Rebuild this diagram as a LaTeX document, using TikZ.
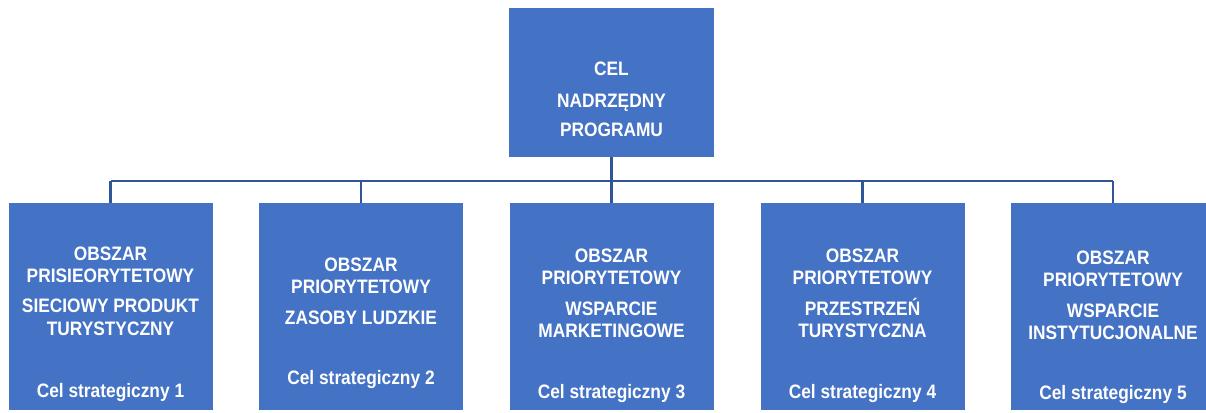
\documentclass[tikz,border=0pt]{standalone}
\usepackage{fontspec}
\setmainfont{Liberation Sans}[FakeStretch=0.89]
\definecolor{boxblue}{HTML}{4472C4}
\definecolor{lineblue}{HTML}{2F5597}
\begin{document}
\begin{tikzpicture}[x=0.75pt,y=-0.75pt,
  boxstyle/.style={fill=boxblue,draw=none,inner sep=0pt,minimum width=153pt,minimum height=155.25pt},
  topstyle/.style={fill=boxblue,draw=none,inner sep=0pt,minimum width=153.75pt,minimum height=111.75pt},
  txt/.style={anchor=base,text=white,inner sep=0pt,font=\fontsize{14.6}{16}\selectfont\bfseries},
  conn/.style={draw=lineblue,line width=1.6pt}]
\useasboundingbox (0,0) rectangle (1206,412);
\clip (0,0) rectangle (1206,412);
% boxes
\node[topstyle] (top) at (611.5,82.5) {};
\node[boxstyle] (b1) at (110.5,306.5) {};
\node[boxstyle] (b2) at (361,306.5) {};
\node[boxstyle] (b3) at (611.5,306.5) {};
\node[boxstyle] (b4) at (862.5,306.5) {};
\node[boxstyle] (b5) at (1113,306.5) {};
% connectors
\coordinate (bus) at (611.5,181);
\draw[conn] (top.south) -- (b3.north);
\draw[conn] (b1.north |- bus) -- (b5.north |- bus);
\draw[conn] (b1.north |- bus) -- (b1.north);
\draw[conn] (b2.north |- bus) -- (b2.north);
\draw[conn] (b4.north |- bus) -- (b4.north);
\draw[conn] (b5.north |- bus) -- (b5.north);
% top text
\node[txt] (t1) at (611.5,75) {CEL};
\node[txt] (t2) at (611.5,107) {NADRZĘDNY};
\node[txt] (t3) at (611.5,136) {PROGRAMU};
% box 1
\node[txt] (a1) at (110.5,260) {OBSZAR};
\node[txt] (a2) at (110.5,282) {PRISIEORYTETOWY};
\node[txt] (a3) at (110.5,312) {SIECIOWY PRODUKT};
\node[txt] (a4) at (110.5,335) {TURYSTYCZNY};
\node[txt] (a5) at (110.5,397) {Cel strategiczny 1};
% box 2
\node[txt] (c1) at (361,271) {OBSZAR};
\node[txt] (c2) at (361,293) {PRIORYTETOWY};
\node[txt] (c3) at (361,324) {ZASOBY LUDZKIE};
\node[txt] (c4) at (361,384) {Cel strategiczny 2};
% box 3
\node[txt] (d1) at (611.5,262) {OBSZAR};
\node[txt] (d2) at (611.5,284) {PRIORYTETOWY};
\node[txt] (d3) at (611.5,315) {WSPARCIE};
\node[txt] (d4) at (611.5,337) {MARKETINGOWE};
\node[txt] (d5) at (611.5,398) {Cel strategiczny 3};
% box 4
\node[txt] (e1) at (862.5,262) {OBSZAR};
\node[txt] (e2) at (862.5,284) {PRIORYTETOWY};
\node[txt] (e3) at (862.5,315) {PRZESTRZEŃ};
\node[txt] (e4) at (862.5,337) {TURYSTYCZNA};
\node[txt] (e5) at (862.5,398) {Cel strategiczny 4};
% box 5
\node[txt] (f1) at (1113,264) {OBSZAR};
\node[txt] (f2) at (1113,286) {PRIORYTETOWY};
\node[txt] (f3) at (1113,317) {WSPARCIE};
\node[txt] (f4) at (1113,339) {INSTYTUCJONALNE};
\node[txt] (f5) at (1113,399) {Cel strategiczny 5};
\end{tikzpicture}
\end{document}
